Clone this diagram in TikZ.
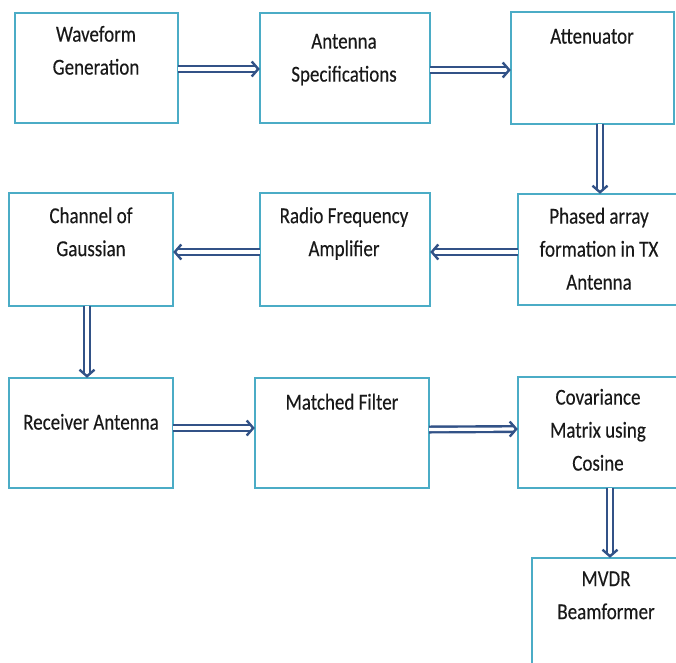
\documentclass[tikz,border=0pt]{standalone}
\usepackage{fontspec}
\setmainfont{Carlito}[FakeBold=0.3]
\usetikzlibrary{arrows.meta}
\definecolor{boxcol}{RGB}{75,172,198}
\definecolor{arrcol}{RGB}{50,82,135}
\newcommand{\bt}[1]{\scalebox{1}[1.2]{\begin{tabular}{@{}c@{}}#1\end{tabular}}}
\begin{document}
\begin{tikzpicture}[x=1pt,y=1pt,
  blk/.style={inner sep=0pt},
  lbl/.style={inner sep=0pt,font=\fontsize{19}{27.5}\selectfont,text=black!90},
  flow/.style={draw=arrcol,double=white,double distance=3.2pt,line width=2.4pt,shorten >=3.5pt,
    postaction={draw=white,line width=0.3pt,double=none,shorten >=0pt,
      -{Straight Barb[color=arrcol,line width=2.4pt,length=6.5pt,width=15pt]}}}]
\useasboundingbox (0,0) rectangle (676,-662);
\begin{scope}
\clip (0,0) rectangle (676,-662);
% boxes (coordinates in pixel units, y downward)
\node[blk,minimum width=163pt,minimum height=110pt] (wf) at (96.5,-68) {};
\node[blk,minimum width=170pt,minimum height=110pt] (as) at (345,-68) {};
\node[blk,minimum width=163pt,minimum height=112pt] (at) at (592.5,-68) {};
\node[blk,minimum width=164pt,minimum height=112pt] (ch) at (91,-249.5) {};
\node[blk,minimum width=170pt,minimum height=112pt] (rf) at (345,-249.5) {};
\node[blk,minimum width=162pt,minimum height=111pt] (ph) at (599,-249.5) {};
\node[blk,minimum width=164pt,minimum height=110pt] (rx) at (91,-433) {};
\node[blk,minimum width=174pt,minimum height=110pt] (mf) at (342,-433) {};
\node[blk,minimum width=162pt,minimum height=111pt] (cv) at (599,-432.5) {};
\node[blk,minimum width=148pt,minimum height=112pt] (mv) at (606,-614) {};
\foreach \n in {wf,as,at,ch,rf,ph,rx,mf,cv,mv}{\draw[draw=boxcol,line width=2.3pt] (\n.south west) rectangle (\n.north east);}
% labels
\node[lbl] (twf) at (96,-51.5) {\bt{Waveform\\Generation}};
\node[lbl] (tas) at (344,-58.5) {\bt{Antenna\\Specifications}};
\node[lbl] (tat) at (592,-37) {\bt{Attenuator}};
\node[lbl] (tch) at (91,-233) {\bt{Channel of\\Gaussian}};
\node[lbl] (trf) at (344,-233) {\bt{Radio Frequency\\Amplifier}};
\node[lbl] (tph) at (599,-250) {\bt{Phased array\\formation in TX\\Antenna}};
\node[lbl] (trx) at (91,-423) {\bt{Receiver Antenna}};
\node[lbl] (tmf) at (342,-403) {\bt{Matched Filter}};
\node[lbl] (tcv) at (598,-431) {\bt{Covariance\\Matrix using\\Cosine}};
\node[lbl] (tmv) at (606,-596) {\bt{MVDR\\Beamformer}};
% connectors
\draw[flow] ([yshift=-1pt]wf.east) -- ([yshift=-1pt]as.west);
\draw[flow] ([yshift=-2pt]as.east) -- ([yshift=-2pt]at.west);
\draw[flow] (at.south -| 600,0) -- (ph.north -| 600,0);
\draw[flow] ([yshift=-2.5pt]ph.west) -- ([yshift=-2.5pt]rf.east);
\draw[flow] ([yshift=-2.5pt]rf.west) -- ([yshift=-2.5pt]ch.east);
\draw[flow] (ch.south -| 87,0) -- (rx.north -| 87,0);
\draw[flow] ([yshift=5pt]rx.east) -- ([yshift=5pt]mf.west);
\draw[flow] ([yshift=3.5pt]mf.east) -- ([yshift=3.5pt]cv.west);
\draw[flow] (cv.south -| 610,0) -- (mv.north -| 610,0);
\end{scope}
\end{tikzpicture}
\end{document}
